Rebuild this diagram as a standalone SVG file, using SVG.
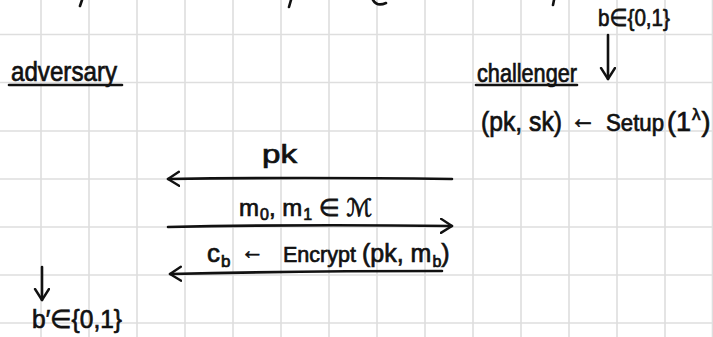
<svg xmlns="http://www.w3.org/2000/svg" width="713" height="337" viewBox="0 0 713 337">
<style>
.grid line{stroke:#dedede;stroke-width:1.6}
.hand{font-family:"Liberation Sans","DejaVu Sans",sans-serif;fill:#111;stroke:#111;stroke-width:0.7}
.ink{stroke:#111;stroke-width:2.6;fill:none;stroke-linecap:round;stroke-linejoin:round}
</style>
<defs>
<marker id="head" markerUnits="userSpaceOnUse" markerWidth="16" markerHeight="20" refX="12" refY="8" orient="auto">
<path d="M1,1 L12,8 L1,15" stroke="#111" stroke-width="2.4" fill="none" stroke-linecap="round" stroke-linejoin="round"/>
</marker>
</defs>
<rect width="713" height="337" fill="#fff"/>
<g class="grid">
<line x1="41" y1="0" x2="41" y2="337"/><line x1="89" y1="0" x2="89" y2="337"/><line x1="137" y1="0" x2="137" y2="337"/><line x1="185" y1="0" x2="185" y2="337"/><line x1="233" y1="0" x2="233" y2="337"/><line x1="281" y1="0" x2="281" y2="337"/><line x1="329" y1="0" x2="329" y2="337"/><line x1="377" y1="0" x2="377" y2="337"/><line x1="425" y1="0" x2="425" y2="337"/><line x1="473" y1="0" x2="473" y2="337"/><line x1="521" y1="0" x2="521" y2="337"/><line x1="569" y1="0" x2="569" y2="337"/><line x1="617" y1="0" x2="617" y2="337"/><line x1="665" y1="0" x2="665" y2="337"/><line x1="712.5" y1="0" x2="712.5" y2="337"/>
<line x1="0" y1="34.5" x2="713" y2="34.5"/><line x1="0" y1="82.5" x2="713" y2="82.5"/><line x1="0" y1="131" x2="713" y2="131"/><line x1="0" y1="179" x2="713" y2="179"/><line x1="0" y1="227" x2="713" y2="227"/><line x1="0" y1="275" x2="713" y2="275"/><line x1="0" y1="323" x2="713" y2="323"/>
</g>
<g id="top-fragments" class="ink">
<path d="M82,0 L80,6"/><path d="M291,0 L289,7"/><path d="M373,0 Q377,7 386,3"/><path d="M554,0 L553,5"/>
</g>
<g id="adversary">
<text class="hand" x="11" y="81" font-size="28" textLength="106" lengthAdjust="spacingAndGlyphs">adversary</text>
<line class="ink" x1="9" y1="85" x2="122" y2="85"/>
</g>
<g id="challenger">
<text class="hand" x="477" y="82" font-size="25" textLength="100" lengthAdjust="spacingAndGlyphs">challenger</text>
<line class="ink" x1="476" y1="85" x2="577" y2="85"/>
</g>
<g id="b-choice">
<text class="hand" x="598" y="26" font-size="24" textLength="72" lengthAdjust="spacingAndGlyphs">b∈{0,1}</text>
</g>
<g id="setup">
<text class="hand" x="481" y="131" font-size="27" textLength="81" lengthAdjust="spacingAndGlyphs">(pk, sk)</text>
<text class="hand" x="570" y="128" font-size="30" textLength="26" lengthAdjust="spacingAndGlyphs">←</text>
<text class="hand" x="606" y="131" font-size="23" textLength="58" lengthAdjust="spacingAndGlyphs">Setup</text>
<text class="hand" x="667" y="131" font-size="27">(1<tspan dx="1" dy="-11" font-size="17">λ</tspan><tspan dx="1" dy="11">)</tspan></text>
</g>
<g id="guess">
<text class="hand" x="32" y="328" font-size="26" textLength="90" lengthAdjust="spacingAndGlyphs">b′∈{0,1}</text>
</g>
<g id="labels">
<text class="hand" x="262" y="163" font-size="25" textLength="35" lengthAdjust="spacingAndGlyphs">pk</text>
<text class="hand" x="239" y="216" font-size="24">m<tspan dx="1" dy="4" font-size="16">0</tspan><tspan dy="-4">, m</tspan><tspan dx="1" dy="4" font-size="16">1</tspan><tspan dy="-4"> ∈ ℳ</tspan></text>
<text class="hand" x="207" y="262" font-size="26">c<tspan dx="1" dy="5" font-size="17">b</tspan></text>
<text class="hand" x="241" y="259" font-size="26" textLength="23" lengthAdjust="spacingAndGlyphs">←</text>
<text class="hand" x="283" y="262" font-size="22" textLength="73" lengthAdjust="spacingAndGlyphs">Encrypt</text>
<text class="hand" x="362" y="262" font-size="25">(pk, m<tspan dx="1" dy="5" font-size="16">b</tspan><tspan dy="-5">)</tspan></text>
</g>
<g id="connectors" class="ink">
<path d="M608,35 L608,79" marker-end="url(#head)"/>
<path d="M42,267 L42,300" marker-end="url(#head)"/>
<path d="M452,179 Q300,177 168,179" marker-end="url(#head)"/>
<path d="M168,227 Q300,224 452,226" marker-end="url(#head)"/>
<path d="M442,271 Q300,271 170,274" marker-end="url(#head)"/>
</g>
</svg>
